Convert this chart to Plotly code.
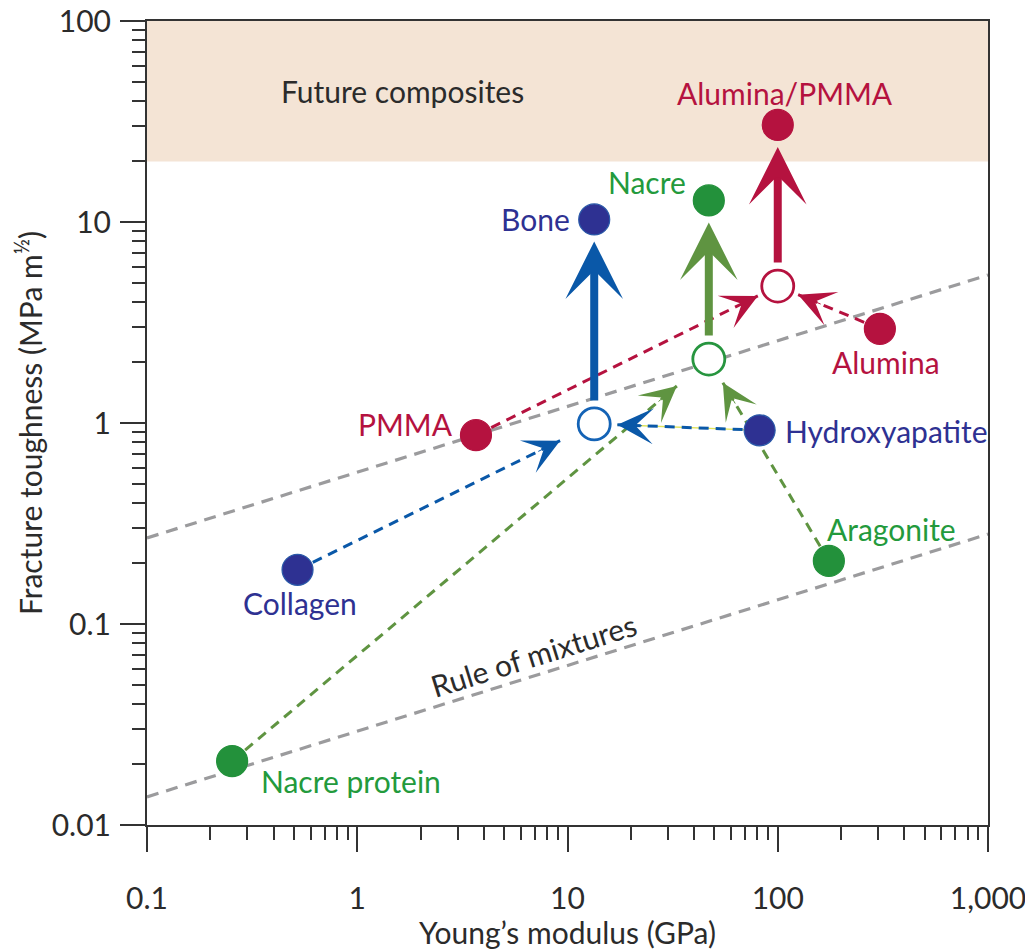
import numpy as np
import plotly.graph_objects as go

# ---------------- data ----------------
point_names = ["Collagen", "Hydroxyapatite", "Bone",
               "Nacre protein", "Aragonite", "Nacre",
               "PMMA", "Alumina", "Alumina/PMMA"]
point_E = [0.52, 82, 13.4, 0.254, 175, 47, 3.67, 306, 100]          # GPa
point_K = [0.186, 0.92, 10.3, 0.0208, 0.206, 12.8, 0.87, 2.94, 30.4]  # MPa m^1/2
point_group = ["bone", "bone", "bone", "nacre", "nacre", "nacre",
               "alumina", "alumina", "alumina"]

mix_groups = ["bone", "nacre", "alumina"]          # rule-of-mixtures estimates
mix_E = [13.4, 47, 100]
mix_K = [0.99, 2.08, 4.8]

link_source = ["Collagen", "Hydroxyapatite", "Nacre protein", "Aragonite", "PMMA", "Alumina"]
link_target = ["bone", "bone", "nacre", "nacre", "alumina", "alumina"]
link_head_frac = [0.885, 0.86, 0.933, 0.883, 0.934, 0.80]

up_source = ["bone", "nacre", "alumina"]
up_target = ["Bone", "Nacre", "Alumina/PMMA"]

guide_E = [0.1, 1000]
guide_upper_K = [0.268, 5.45]
guide_lower_K = [0.0138, 0.28]

zone_K = [20, 100]
zone_label = "Future composites"
zone_label_E = 1.65
rule_label = "Rule of mixtures"
rule_label_E = 6.86

x_tickvals = [0.1, 1, 10, 100, 1000]
x_ticktext = ["0.1", "1", "10", "100", "1,000"]
y_tickvals = [0.01, 0.1, 1, 10, 100]
y_ticktext = ["0.01", "0.1", "1", "10", "100"]

# ---------------- style ----------------
# page body has an 8px margin, so the figure is 8px smaller and margins compensate
W, H = 1025, 942
ML, MR, MT, MB = 139, 45, 13, 125
PW, PH = W - ML - MR, H - MT - MB
FONT = "Lato"
FS = 30

marker_col = {"bone": "#2e3192", "nacre": "#23913b", "alumina": "#b5123f"}
edge_col = {"bone": "#2b5aa9", "nacre": "#23913b", "alumina": "#b5123f"}
path_col = {"bone": "#0a58a8", "nacre": "#5f9441", "alumina": "#b5123f"}
open_col = {"bone": "#1463b6", "nacre": "#27953f", "alumina": "#b5123f"}
label_col = {"bone": "#2e3192", "nacre": "#239a3c", "alumina": "#b5123f"}
label_pos = {  # xanchor, xshift, yshift (pixels)
    "Collagen": ("center", 2, -33),
    "Hydroxyapatite": ("left", 23, -1),
    "Bone": ("right", -22, 0),
    "Nacre protein": ("left", 27, -20),
    "Aragonite": ("center", 63, 32),
    "Nacre": ("center", -62, 18),
    "PMMA": ("right", -21, 11),
    "Alumina": ("center", 6, -33),
    "Alumina/PMMA": ("center", 7, 32),
}

lE = dict(zip(point_names, np.log10(point_E)))
lK = dict(zip(point_names, np.log10(point_K)))
mE = dict(zip(mix_groups, np.log10(mix_E)))
mK = dict(zip(mix_groups, np.log10(mix_K)))
grp = dict(zip(point_names, point_group))

fig = go.Figure()

# future-composites zone
fig.add_trace(go.Scatter(
    x=[guide_E[0], guide_E[1], guide_E[1], guide_E[0]],
    y=[zone_K[0], zone_K[0], zone_K[1], zone_K[1]],
    fill="toself", fillcolor="#f4e4d5", mode="none", hoverinfo="skip"))

# guide lines
for gk in (guide_upper_K, guide_lower_K):
    fig.add_trace(go.Scatter(x=guide_E, y=gk, mode="lines",
                             line=dict(color="#9b9b9d", width=3.2, dash="12px,8px"),
                             hoverinfo="skip"))

annotations = []

# constituent -> mixture dashed paths with arrowheads
for src, tgt, f in zip(link_source, link_target, link_head_frac):
    x0, y0 = lE[src], lK[src]
    x1, y1 = mE[tgt], mK[tgt]
    hx, hy = x0 + f * (x1 - x0), y0 + f * (y1 - y0)
    col = path_col[tgt]
    if src == "Hydroxyapatite":
        fig.add_trace(go.Scatter(x=[10 ** x0, 10 ** hx], y=[10 ** y0, 10 ** hy], mode="lines",
                                 line=dict(color="#dfe35a", width=1.3), hoverinfo="skip"))
    fig.add_trace(go.Scatter(x=[10 ** x0, 10 ** hx], y=[10 ** y0, 10 ** hy], mode="lines",
                             line=dict(color=col, width=3, dash="10px,7px"),
                             hoverinfo="skip"))
    dxp = (x1 - x0) * PW / 4
    dyp = -(y1 - y0) * PH / 4
    n = np.hypot(dxp, dyp)
    L = 26
    annotations.append(dict(x=hx, y=hy, xref="x", yref="y", text="", showarrow=True,
                            ax=-L * dxp / n, ay=-L * dyp / n,
                            arrowhead=3, arrowwidth=1, arrowsize=6, arrowcolor=col))

# mixture -> composite thick arrows
for src, tgt in zip(up_source, up_target):
    annotations.append(dict(x=lE[tgt], y=lK[tgt], xref="x", yref="y",
                            ax=mE[src], ay=mK[src], axref="x", ayref="y",
                            text="", showarrow=True, arrowhead=3, arrowwidth=8,
                            arrowsize=1.2, arrowcolor=path_col[src],
                            standoff=22, startstandoff=22))

# open circles (rule-of-mixtures estimates)
fig.add_trace(go.Scatter(x=mix_E, y=mix_K, mode="markers",
                         marker=dict(size=32, color="white",
                                     line=dict(color=[open_col[g] for g in mix_groups], width=2.8)),
                         hoverinfo="skip"))

# filled points
fig.add_trace(go.Scatter(x=point_E, y=point_K, mode="markers",
                         marker=dict(size=31, color=[marker_col[g] for g in point_group],
                                     line=dict(color=[edge_col[g] for g in point_group], width=1.2)),
                         text=point_names, hoverinfo="text"))

# labels
for name in point_names:
    xa, xs, ys = label_pos[name]
    annotations.append(dict(x=lE[name], y=lK[name], xref="x", yref="y", text=name,
                            showarrow=False, xanchor=xa, yanchor="middle",
                            xshift=xs, yshift=ys,
                            font=dict(family=FONT, size=FS, color=label_col[grp[name]])))

annotations.append(dict(x=np.log10(zone_label_E), y=np.mean(np.log10(zone_K)),
                        xref="x", yref="y", text=zone_label, showarrow=False,
                        font=dict(family=FONT, size=FS, color="#2b2b2b")))

slope = (np.log10(guide_lower_K[1]) - np.log10(guide_lower_K[0])) / \
        (np.log10(guide_E[1]) - np.log10(guide_E[0]))
ang = np.degrees(np.arctan(slope * PH / PW))
ry = np.log10(guide_lower_K[0]) + slope * (np.log10(rule_label_E) - np.log10(guide_E[0]))
annotations.append(dict(x=np.log10(rule_label_E), y=ry, xref="x", yref="y",
                        text=rule_label, showarrow=False, textangle=-ang, yshift=21,
                        font=dict(family=FONT, size=FS, color="#2b2b2b")))

axis_common = dict(type="log", showgrid=False, zeroline=False, showline=True,
                   linecolor="#333333", linewidth=2, mirror=True, automargin=False,
                   ticks="outside", ticklen=25, tickwidth=2, tickcolor="#333333",
                   ticklabeloverflow="allow",
                   tickfont=dict(family=FONT, size=FS, color="#2b2b2b"),
                   minor=dict(ticks="outside", ticklen=13, tickwidth=2,
                              tickcolor="#333333", dtick="D1", showgrid=False))

fig.update_layout(
    width=W, height=H,
    margin=dict(l=ML, r=MR, t=MT, b=MB),
    paper_bgcolor="white", plot_bgcolor="white",
    showlegend=False,
    font=dict(family=FONT, size=FS, color="#2b2b2b"),
    xaxis=dict(axis_common, range=[-1, 3], tickmode="array",
               tickvals=x_tickvals, ticktext=x_ticktext, ticklabelstandoff=21,
               title=dict(text="Young’s modulus (GPa)", standoff=11,
                          font=dict(family=FONT, size=FS, color="#2b2b2b"))),
    yaxis=dict(axis_common, range=[-2, 2], tickmode="array",
               tickvals=y_tickvals, ticktext=y_ticktext, ticklabelstandoff=3,
               title=dict(text="Fracture toughness (MPa m<sup>½</sup>)", standoff=4,
                          font=dict(family=FONT, size=FS, color="#2b2b2b"))),
    annotations=annotations,
)

fig.write_html("out.html")
